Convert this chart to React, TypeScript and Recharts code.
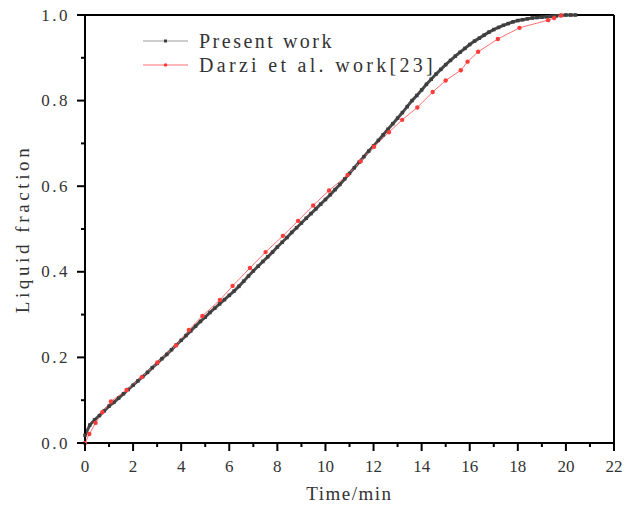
import { Legend, Line, LineChart, ReferenceLine, XAxis, YAxis } from "recharts"

const FONT = "Liberation Serif"
const PLOT_LEFT = 85
const PLOT_TOP = 15
const PLOT_RIGHT = 614
const PLOT_BOTTOM = 443

// Present work: [time (min), liquid fraction]
const presentWork = [
  [0, 0.018], [0.2, 0.042], [0.4, 0.054], [0.6, 0.064], [0.8, 0.075],
  [1.0, 0.086], [1.2, 0.095], [1.4, 0.105], [1.6, 0.115], [1.8, 0.125],
  [2.0, 0.135], [2.2, 0.145], [2.4, 0.155], [2.6, 0.165], [2.8, 0.176],
  [3.0, 0.186], [3.2, 0.197], [3.4, 0.207], [3.6, 0.218], [3.8, 0.229],
  [4.0, 0.24], [4.2, 0.251], [4.4, 0.262], [4.6, 0.273], [4.8, 0.284],
  [5.0, 0.294], [5.2, 0.305], [5.4, 0.315], [5.6, 0.325], [5.8, 0.335],
  [6.0, 0.345], [6.2, 0.355], [6.4, 0.366], [6.6, 0.378], [6.8, 0.39],
  [7.0, 0.402], [7.2, 0.413], [7.4, 0.424], [7.6, 0.435], [7.8, 0.446],
  [8.0, 0.458], [8.2, 0.469], [8.4, 0.48], [8.6, 0.492], [8.8, 0.503],
  [9.0, 0.514], [9.2, 0.525], [9.4, 0.536], [9.6, 0.547], [9.8, 0.558],
  [10.0, 0.569], [10.2, 0.58], [10.4, 0.592], [10.6, 0.604], [10.8, 0.617],
  [11.0, 0.63], [11.2, 0.643], [11.4, 0.656], [11.6, 0.669], [11.8, 0.682],
  [12.0, 0.694], [12.2, 0.707], [12.4, 0.72], [12.6, 0.733], [12.8, 0.746],
  [13.0, 0.759], [13.2, 0.772], [13.4, 0.786], [13.6, 0.8], [13.8, 0.812],
  [14.0, 0.825], [14.2, 0.838], [14.4, 0.85], [14.6, 0.862], [14.8, 0.873],
  [15.0, 0.884], [15.2, 0.894], [15.4, 0.904], [15.6, 0.913], [15.8, 0.922],
  [16.0, 0.931], [16.2, 0.939], [16.4, 0.946], [16.6, 0.953], [16.8, 0.96],
  [17.0, 0.966], [17.2, 0.971], [17.4, 0.976], [17.6, 0.98], [17.8, 0.984],
  [18.0, 0.987], [18.2, 0.989], [18.4, 0.991], [18.6, 0.993], [18.8, 0.994],
  [19.0, 0.995], [19.2, 0.996], [19.4, 0.997], [19.6, 0.998], [19.8, 0.999],
  [20.0, 1.0], [20.2, 1.0], [20.4, 1.0],
]

// Darzi et al. work[23]
const darziWork = [
  [0, 0], [0.18, 0.021], [0.44, 0.047], [0.72, 0.072], [1.08, 0.097],
  [1.73, 0.124], [2.36, 0.154], [3.01, 0.188], [3.78, 0.228], [4.32, 0.264],
  [4.88, 0.297], [5.61, 0.334], [6.14, 0.367], [6.86, 0.409], [7.51, 0.446],
  [8.23, 0.484], [8.86, 0.519], [9.49, 0.555], [10.15, 0.59], [10.92, 0.626],
  [11.46, 0.658], [12.02, 0.692], [12.64, 0.726], [13.19, 0.755], [13.82, 0.784],
  [14.46, 0.82], [15.0, 0.847], [15.63, 0.871], [15.91, 0.891], [16.35, 0.914],
  [17.17, 0.944], [18.07, 0.97], [19.26, 0.988], [19.51, 0.993], [19.8, 0.999],
]

const xTicks = [0, 1, 2, 3, 4, 5, 6, 7, 8, 9, 10, 11, 12, 13, 14, 15, 16, 17, 18, 19, 20, 21, 22]
const yTicks = [0, 0.1, 0.2, 0.3, 0.4, 0.5, 0.6, 0.7, 0.8, 0.9, 1.0]

const presentData = presentWork.map(([t, f]) => ({ t, f }))
const darziData = darziWork.map(([t, f]) => ({ t, f }))

const XTick = (props: any) => {
  const { x, payload } = props
  const major = payload.value % 2 === 0
  return (
    <g>
      <line x1={x} x2={x} y1={PLOT_BOTTOM} y2={PLOT_BOTTOM + (major ? 8 : 4)} stroke="#000" strokeWidth={2} />
      {major && (
        <text x={x} y={472} textAnchor="middle" fontFamily={FONT} fontSize={17} fill="#333">
          {payload.value}
        </text>
      )}
    </g>
  )
}

const YTick = (props: any) => {
  const { y, payload } = props
  const major = Math.round(payload.value * 10) % 2 === 0
  return (
    <g>
      <line x1={PLOT_LEFT} x2={PLOT_LEFT - (major ? 8 : 4)} y1={y} y2={y} stroke="#000" strokeWidth={2} />
      {major && (
        <text x={70} y={y + 5.5} textAnchor="end" fontFamily={FONT} fontSize={17} letterSpacing={2.5} fill="#333">
          {payload.value.toFixed(1)}
        </text>
      )}
    </g>
  )
}

const SquareDot = (props: any) => {
  const { cx, cy, index } = props
  return <rect key={`sq${index}`} x={cx - 1.75} y={cy - 1.75} width={3.5} height={3.5} fill="#3d3d3d" />
}

const RedDot = (props: any) => {
  const { cx, cy, index } = props
  return <circle key={`rd${index}`} cx={cx} cy={cy} r={2.2} fill="#ff3b3b" />
}

const LegendBox = () => (
  <svg width={320} height={50} style={{ overflow: "visible" }}>
    <line x1={3} x2={48} y1={13} y2={13} stroke="#9a9a9a" strokeWidth={1} />
    <rect x={24} y={11.5} width={3} height={3} fill="#3d3d3d" />
    <text x={59} y={13} dominantBaseline="central" fontFamily={FONT} fontSize={20} letterSpacing={2.5} fill="#333">
      Present work
    </text>
    <line x1={3} x2={48} y1={37} y2={37} stroke="#ff7070" strokeWidth={1} />
    <circle cx={25.5} cy={37} r={1.8} fill="#ff3b3b" />
    <text x={59} y={37} dominantBaseline="central" fontFamily={FONT} fontSize={20} letterSpacing={3.3} fill="#333">
      Darzi et al. work[23]
    </text>
  </svg>
)

export default function App() {
  return (
    <div style={{ position: "absolute", left: 0, top: 0 }}>
      <LineChart width={633} height={508} margin={{ top: PLOT_TOP, right: 633 - PLOT_RIGHT, left: 0, bottom: 0 }}>
        <XAxis
          dataKey="t"
          type="number"
          domain={[0, 22]}
          ticks={xTicks}
          interval={0}
          height={508 - PLOT_BOTTOM}
          axisLine={{ stroke: "#000", strokeWidth: 2 }}
          tickLine={false}
          tick={<XTick />}
          allowDuplicatedCategory={false}
          label={{
            content: () => (
              <text
                x={(PLOT_LEFT + PLOT_RIGHT) / 2}
                y={500}
                textAnchor="middle"
                fontFamily={FONT}
                fontSize={19}
                letterSpacing={1.5}
                fill="#333"
              >
                Time/min
              </text>
            ),
          }}
        />
        <YAxis
          type="number"
          domain={[0, 1]}
          ticks={yTicks}
          interval={0}
          width={PLOT_LEFT}
          axisLine={{ stroke: "#000", strokeWidth: 2 }}
          tickLine={false}
          tick={<YTick />}
          label={{
            content: () => {
              const cx = 22
              const cy = (PLOT_TOP + PLOT_BOTTOM) / 2
              return (
                <text
                  x={cx}
                  y={cy}
                  transform={`rotate(-90 ${cx} ${cy})`}
                  textAnchor="middle"
                  dominantBaseline="central"
                  fontFamily={FONT}
                  fontSize={19}
                  letterSpacing={3.6}
                  fill="#333"
                >
                  Liquid fraction
                </text>
              )
            },
          }}
        />
        <ReferenceLine y={1} stroke="#000" strokeWidth={2} />
        <ReferenceLine x={22} stroke="#000" strokeWidth={2} />
        <Legend
          layout="horizontal"
          align="center"
          verticalAlign="middle"
          wrapperStyle={{ left: 140, top: 28, width: 320, height: 50 }}
          content={() => <LegendBox />}
        />
        <Line
          data={presentData}
          dataKey="f"
          name="Present work"
          type="linear"
          stroke="#4a4a4a"
          strokeWidth={3}
          dot={SquareDot}
          activeDot={false}
          isAnimationActive={false}
        />
        <Line
          data={darziData}
          dataKey="f"
          name="Darzi et al. work[23]"
          type="linear"
          stroke="#ff7070"
          strokeWidth={1}
          dot={RedDot}
          activeDot={false}
          isAnimationActive={false}
        />
      </LineChart>
    </div>
  )
}
